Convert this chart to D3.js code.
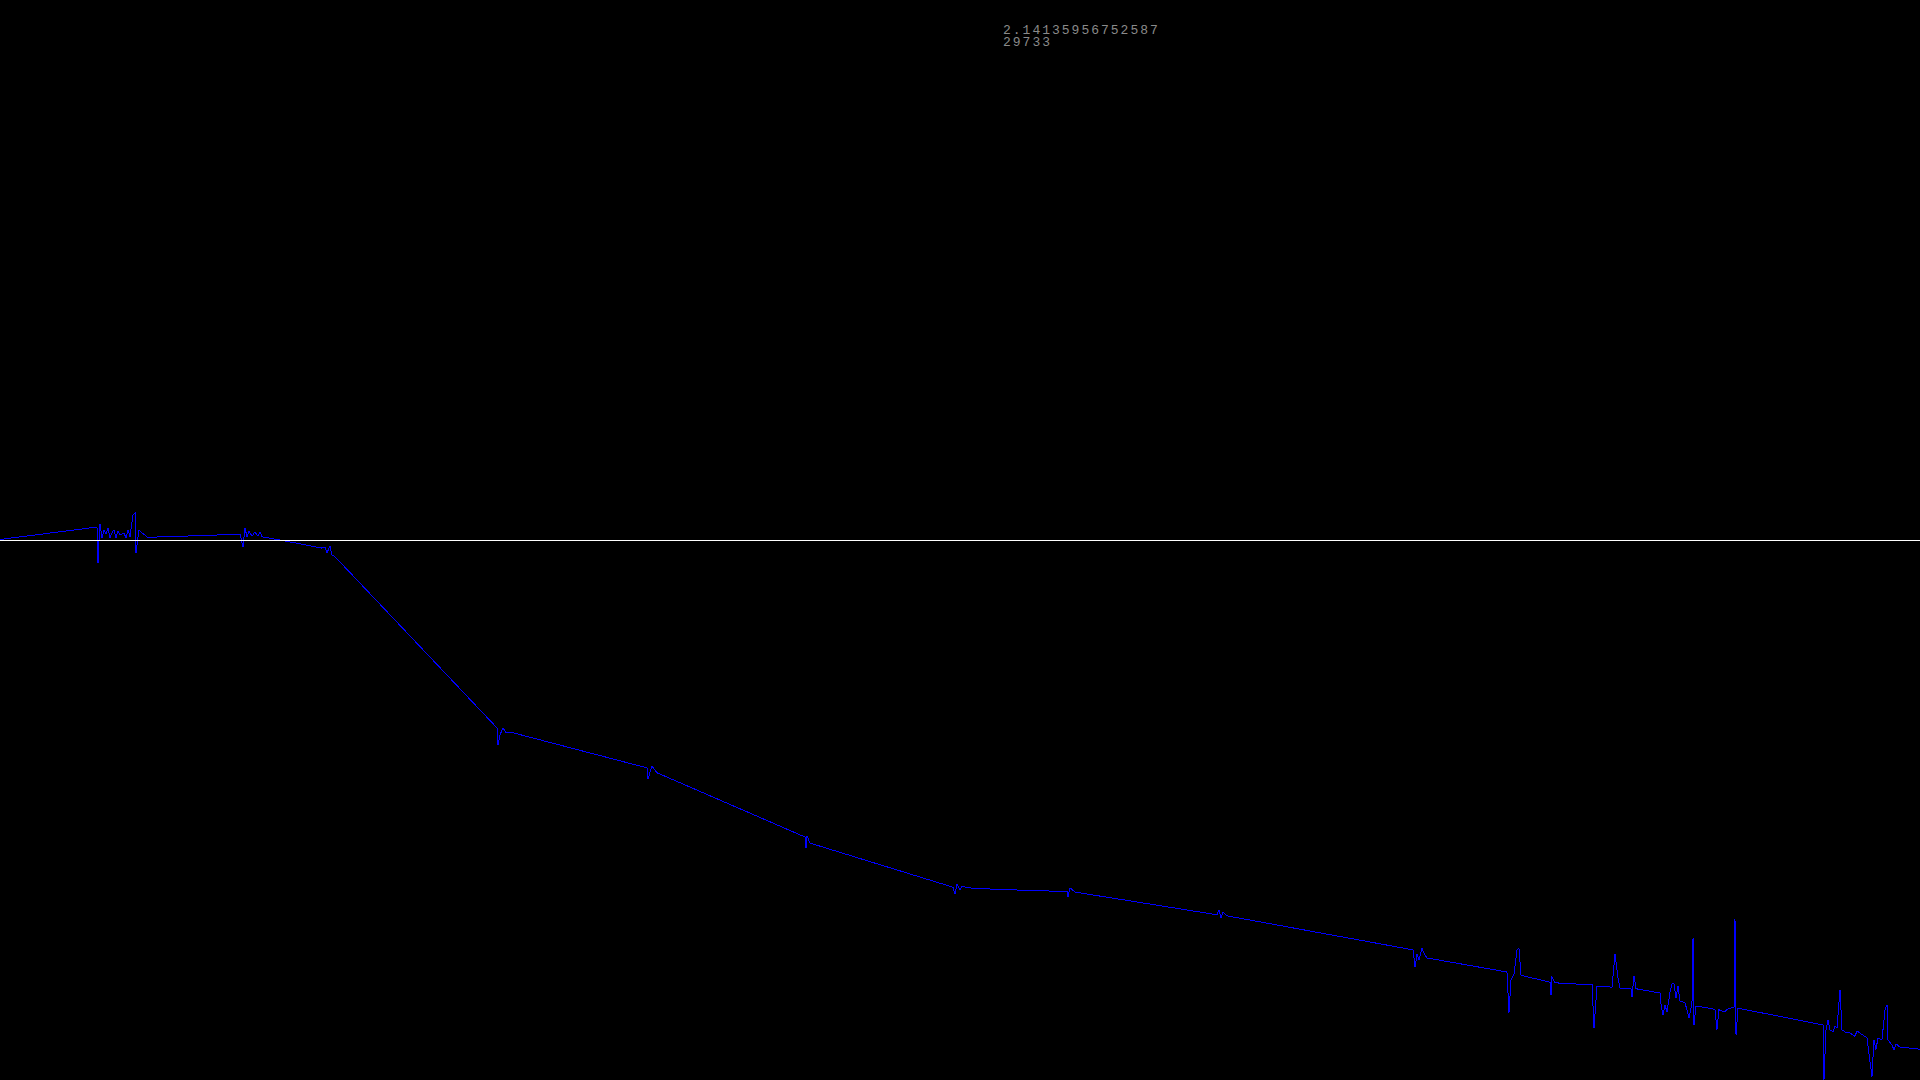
<!DOCTYPE html>
<html>
<head>
<meta charset="utf-8">
<script src="https://cdn.jsdelivr.net/npm/d3@7"></script>
<style>
  html, body { margin: 0; padding: 0; background: #000; overflow: hidden; }
  svg { display: block; }
</style>
</head>
<body>
<svg width="1920" height="1080"></svg>
<script>
// readout shown at the top of the display
const readout = ['2.14135956752587', '29733']

const sampleCount = 29733

// sample positions of the trace vertices
const sampleIndex = [
  0, 1502, 1518, 1533, 1549, 1580, 1611, 1642, 1672, 1703, 1734, 1765, 1796, 1827, 1858,
  1920, 1951, 1982, 2013, 2060, 2091, 2106, 2122, 2153, 2199, 2245, 2292, 2478, 3097,
  3717, 3763, 3794, 3825, 3856, 3902, 3949, 3995, 4026, 4057, 4336,
  4986, 5033, 5064, 5110, 5141, 5188,
  7697, 7712, 7743, 7789, 7836, 7944,
  10019, 10035, 10066, 10097, 10174,
  12466, 12482, 12497, 12544, 12590,
  14758, 14789, 14820, 14867, 14897, 14975, 15254, 15951, 16524, 16539, 16570, 16647,
  18846, 18877, 18908, 18939, 19001,
  21882, 21913, 21944, 21975, 22021, 22052, 22098,
  23337, 23368, 23399, 23446, 23492, 23523, 23554,
  24003, 24019, 24034, 24081, 24654, 24685, 24731, 24963, 25010, 25056, 25087,
  25258, 25273, 25304, 25335,
  25707, 25722, 25753, 25784, 25815, 25862, 25893, 25924, 25955, 25986, 26016, 26094,
  26156, 26202, 26218, 26233, 26264,
  26558, 26589, 26620, 26713, 26744, 26853, 26868, 26884, 26915,
  28231, 28246, 28277, 28308, 28339, 28386, 28417, 28448, 28494, 28525, 28571, 28649,
  28726, 28757, 28850, 28912, 28989, 29020, 29051, 29082, 29144, 29191, 29222, 29237,
  29299, 29330, 29361, 29423, 29733
]

// amplitude at each vertex (-1 .. 1)
const amplitude = [
  0.001, 0.024, -0.043, 0, 0.030, 0.004, 0.019, 0.011, 0.022, 0.004, 0.013, 0.019, 0.004, 0.017, 0.009,
  0.013, 0.004, 0.019, 0.006, 0.046, 0.050, -0.024, -0.009, 0.019, 0.013, 0.009, 0.004, 0.006, 0.008,
  0.011, -0.013, 0.022, 0.006, 0.017, 0.007, 0.015, 0.007, 0.015, 0.006, 0,
  -0.015, -0.013, -0.024, -0.011, -0.028, -0.031,
  -0.348, -0.380, -0.361, -0.348, -0.357, -0.357,
  -0.422, -0.443, -0.430, -0.419, -0.431,
  -0.550, -0.570, -0.548, -0.561, -0.563,
  -0.643, -0.656, -0.637, -0.648, -0.641, -0.644, -0.646, -0.649, -0.651, -0.661, -0.644, -0.652,
  -0.694, -0.685, -0.700, -0.689, -0.696,
  -0.759, -0.791, -0.767, -0.778, -0.756, -0.765, -0.774,
  -0.800, -0.876, -0.815, -0.804, -0.759, -0.756, -0.806,
  -0.819, -0.843, -0.809, -0.820, -0.824, -0.904, -0.826, -0.828, -0.767, -0.811, -0.830,
  -0.831, -0.846, -0.807, -0.831,
  -0.839, -0.859, -0.880, -0.861, -0.874, -0.837, -0.822, -0.822, -0.848, -0.826, -0.854, -0.857,
  -0.885, -0.857, -0.737, -0.898, -0.863,
  -0.869, -0.907, -0.870, -0.874, -0.869, -0.865, -0.702, -0.917, -0.867,
  -0.898, -1.000, -0.907, -0.889, -0.907, -0.911, -0.900, -0.904, -0.833, -0.907, -0.911, -0.913,
  -0.919, -0.909, -0.917, -0.922, -0.994, -0.926, -0.944, -0.922, -0.926, -0.870, -0.861, -0.926,
  -0.935, -0.944, -0.933, -0.939, -0.943
]

const svg = d3.select('svg')
const width = 1920
const height = 1080

const x = d3.scaleLinear().domain([0, sampleCount]).range([0, width])
const y = d3.scaleLinear().domain([-1, 1]).range([height, 0])

const points = sampleIndex.map((t, i) => [t, amplitude[i]])

const line = d3.line()
  .x(d => x(d[0]))
  .y(d => y(d[1]))

svg.append('path')
  .datum(points)
  .attr('d', line)
  .attr('fill', 'none')
  .attr('stroke', '#0000ff')
  .attr('stroke-width', 1)
  .attr('shape-rendering', 'crispEdges')

// zero line
svg.append('line')
  .attr('x1', 0)
  .attr('x2', width)
  .attr('y1', Math.round(y(0)) + 0.5)
  .attr('y2', Math.round(y(0)) + 0.5)
  .attr('stroke', '#ffffff')
  .attr('stroke-width', 1)
  .attr('shape-rendering', 'crispEdges')

svg.selectAll('text.readout')
  .data(readout)
  .enter()
  .append('text')
  .attr('class', 'readout')
  .attr('x', 1003)
  .attr('y', (d, i) => 34 + i * 12)
  .attr('fill', '#8a8a8a')
  .style('font-family', '"Liberation Mono", "DejaVu Sans Mono", monospace')
  .style('font-size', '13px')
  .style('letter-spacing', '2px')
  .text(d => d)
</script>
</body>
</html>
